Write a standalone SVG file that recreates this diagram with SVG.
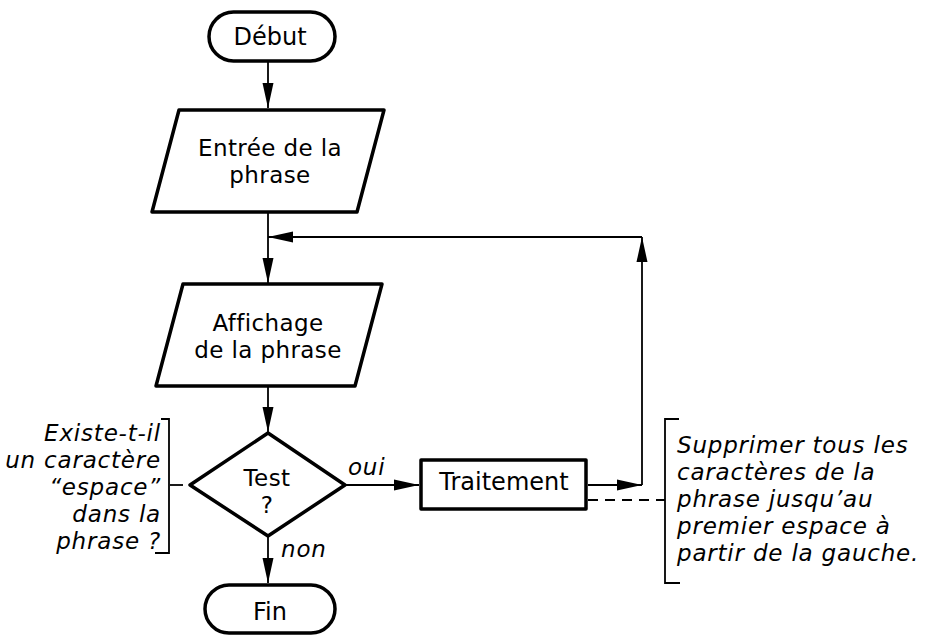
<svg xmlns="http://www.w3.org/2000/svg" width="928" height="636" viewBox="0 0 928 636">
<style>
.shape{fill:#fff;stroke:#000;stroke-width:3.5;stroke-linejoin:round}
.line{fill:none;stroke:#000;stroke-width:1.8}
.dash{fill:none;stroke:#000;stroke-width:1.8;stroke-dasharray:10 7}
.t{font-family:"DejaVu Sans","Liberation Sans",sans-serif;font-size:24px;fill:#000;text-anchor:middle}
.t2{font-family:"DejaVu Sans","Liberation Sans",sans-serif;font-size:23px;letter-spacing:0.4px;fill:#000;text-anchor:middle}
.n{font-family:"DejaVu Sans","Liberation Sans",sans-serif;font-size:23px;letter-spacing:0.8px;font-style:italic;fill:#000}
</style>
<defs>
<marker id="ah" markerUnits="userSpaceOnUse" markerWidth="26" markerHeight="12" refX="25" refY="5.5" orient="auto" overflow="visible">
<path d="M0,0 L25,5.5 L0,11 z" fill="#000"/>
</marker>
</defs>
<rect width="928" height="636" fill="#fff"/>
<g id="connectors">
<path class="line" d="M268,62 V108" marker-end="url(#ah)"/>
<path class="line" d="M268,212 V283" marker-end="url(#ah)"/>
<path class="line" d="M268,386 V432" marker-end="url(#ah)"/>
<path class="line" d="M268,536 V583" marker-end="url(#ah)"/>
<path class="line" d="M346,485 H419" marker-end="url(#ah)"/>
<path class="line" d="M588,485 H642" marker-end="url(#ah)"/>
<path class="line" d="M642,485 V237" marker-end="url(#ah)"/>
<path class="line" d="M642,237 H268" marker-end="url(#ah)"/>
<path class="dash" d="M588,500 H665"/>
<path class="line" d="M170,485 H183"/>
</g>
<g id="debut">
<rect class="shape" x="209" y="12" width="126" height="49" rx="24.5"/>
<text class="t" x="270" y="45">Début</text>
</g>
<g id="entree">
<polygon class="shape" points="179,110 384,110 357,212 152,212"/>
<text class="t2" x="270" y="156">Entrée de la</text>
<text class="t2" x="270" y="183">phrase</text>
</g>
<g id="affichage">
<polygon class="shape" points="183,284 382,284 355,386 156,386"/>
<text class="t2" x="268" y="331">Affichage</text>
<text class="t2" x="268" y="358">de la phrase</text>
</g>
<g id="test">
<polygon class="shape" points="190,485 268,433 345,485 268,536"/>
<text class="t2" x="267" y="486">Test</text>
<text class="t2" x="267" y="513">?</text>
</g>
<g id="traitement">
<rect class="shape" x="421" y="460" width="165" height="49"/>
<text class="t" x="504" y="490">Traitement</text>
</g>
<g id="fin">
<rect class="shape" x="205" y="585" width="130" height="48" rx="24"/>
<text class="t" x="270" y="620">Fin</text>
</g>
<g id="label-oui"><text class="n" x="348" y="475">oui</text></g>
<g id="label-non"><text class="n" x="281" y="557">non</text></g>
<g id="note-test">
<path class="line" d="M161,419 H169 V553 H155"/>
<text class="n" x="161" y="441" text-anchor="end">Existe-t-il</text>
<text class="n" x="161" y="468" text-anchor="end">un caractère</text>
<text class="n" x="161" y="495" text-anchor="end">“espace”</text>
<text class="n" x="161" y="522" text-anchor="end">dans la</text>
<text class="n" x="161" y="549" text-anchor="end">phrase ?</text>
</g>
<g id="note-traitement">
<path class="line" d="M679,419 H665 V583 H680"/>
<text class="n" x="677" y="453">Supprimer tous les</text>
<text class="n" x="677" y="480">caractères de la</text>
<text class="n" x="677" y="507">phrase jusqu’au</text>
<text class="n" x="677" y="534">premier espace à</text>
<text class="n" x="677" y="561">partir de la gauche.</text>
</g>
</svg>
